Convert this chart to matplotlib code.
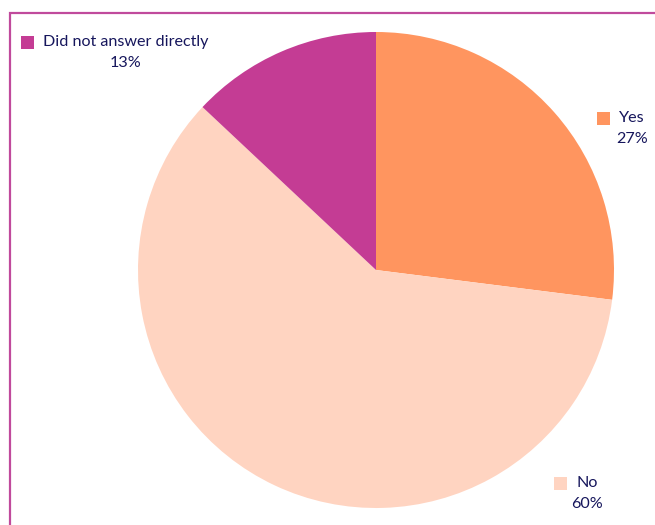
import matplotlib.pyplot as plt
from matplotlib.patches import Rectangle

# ---------------- data ----------------
categories = ["Yes", "No", "Did not answer directly"]
shares = [27, 60, 13]
colors = ["#FF955F", "#FFD4C1", "#C43C94"]

# label anchor (pixel) for each category: square left x, name-line centre y
label_pos = [(597, 118), (554, 483), (21, 42)]

W, H = 655, 525
TEXT = "#16165C"
plt.rcParams['font.family'] = ['Lato', 'DejaVu Sans']

fig = plt.figure(figsize=(W / 100, H / 100), dpi=100)

# pie centre (376, 270), radius 238 px
cx, cy, r = 376, 270, 238
ax = fig.add_axes([(cx - r) / W, (H - cy - r) / H, 2 * r / W, 2 * r / H])
ax.pie(shares, colors=colors, startangle=90, counterclock=False,
       radius=1, wedgeprops=dict(linewidth=0))
ax.set_xlim(-1, 1)
ax.set_ylim(-1, 1)
ax.axis("off")

# frame (only left/top visible)
fig.add_artist(Rectangle((9.5 / W, -0.1), 1.2, (H - 13) / H + 0.1,
                         transform=fig.transFigure, fill=False,
                         edgecolor="#C04A9C", linewidth=1.6))

# labels: coloured square + name, percentage centred under the name
sq = 13
for name, val, col, (px, py) in zip(categories, shares, colors, label_pos):
    fig.add_artist(Rectangle((px / W, (H - py - sq / 2) / H), sq / W, sq / H,
                             transform=fig.transFigure, facecolor=col,
                             edgecolor="none"))
    t = fig.text((px + sq + 9) / W, (H - py) / H, name, color=TEXT,
                 fontsize=11.6, va="center", ha="left")
    fig.canvas.draw()
    bb = t.get_window_extent()
    mid = (bb.x0 + bb.x1) / 2
    fig.text(mid / W, (H - py - 21) / H, f"{val}%", color=TEXT,
             fontsize=11.6, va="center", ha="center")

fig.savefig("out.png", dpi=100)
